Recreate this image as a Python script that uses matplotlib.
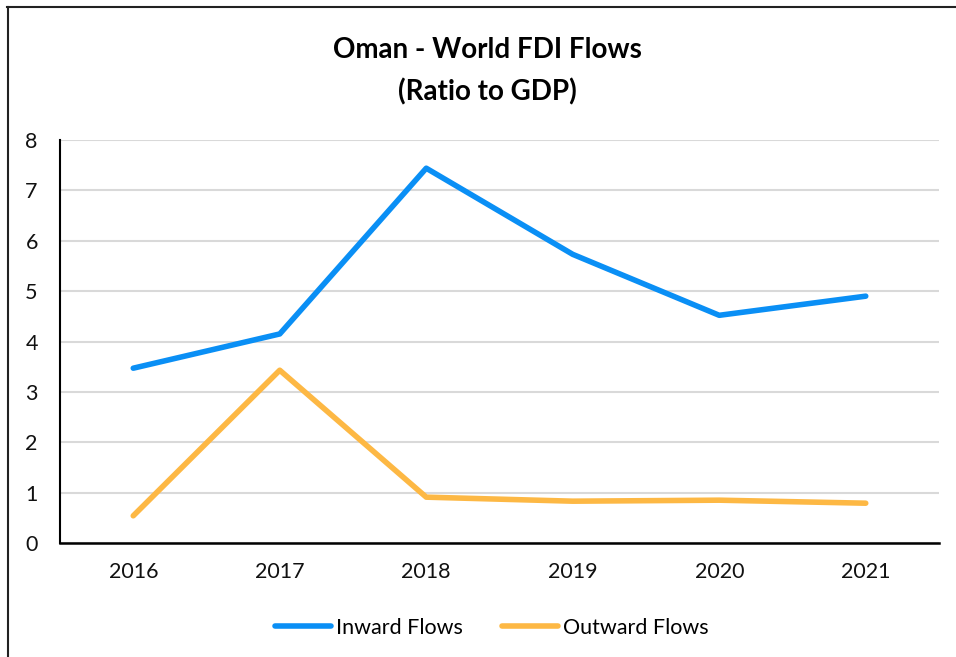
import matplotlib
matplotlib.use("Agg")
import matplotlib.pyplot as plt
from matplotlib.lines import Line2D

years = ["2016", "2017", "2018", "2019", "2020", "2021"]
inward = [3.47, 4.15, 7.44, 5.73, 4.52, 4.90]
outward = [0.54, 3.43, 0.91, 0.83, 0.85, 0.79]
yticks = [0, 1, 2, 3, 4, 5, 6, 7, 8]

plt.rcParams['font.family'] = ['Lato', 'DejaVu Sans']

W, H = 956, 657
fig = plt.figure(figsize=(W / 100, H / 100), dpi=100)
ax = fig.add_axes([60 / W, 1 - 543 / H, (939 - 60) / W, (543 - 140) / H])

BLUE = '#0A8FF5'
ORANGE = '#FDB844'

x = list(range(len(years)))
ax.plot(x, inward, color=BLUE, lw=4, solid_capstyle='round', solid_joinstyle='round', label='Inward Flows')
ax.plot(x, outward, color=ORANGE, lw=4, solid_capstyle='round', solid_joinstyle='round', label='Outward Flows')

ax.set_xlim(-0.5, len(years) - 0.5)
ax.set_ylim(0, 8)
ax.set_xticks(x)
ax.set_xticklabels(years)
ax.set_yticks(yticks)
ax.set_yticklabels([str(v) for v in yticks])
ax.tick_params(axis='both', length=0, labelsize=15.5, colors='#111111')
ax.tick_params(axis='x', pad=14)
ax.tick_params(axis='y', pad=16)
ax.grid(axis='y', color='#D9D9D9', lw=1.5)
ax.set_axisbelow(True)
for s in ['top', 'right']:
    ax.spines[s].set_visible(False)
ax.spines['left'].set_linewidth(1.5)
ax.spines['bottom'].set_linewidth(1.8)
ax.spines['left'].set_color('black')
ax.spines['bottom'].set_color('black')

fig.text(487 / W, 1 - 50 / H, 'Oman - World FDI Flows', ha='center', va='center',
         fontsize=20, fontweight='bold')
fig.text(487 / W, 1 - 92 / H, '(Ratio to GDP)', ha='center', va='center',
         fontsize=20, fontweight='bold')

handles = [Line2D([], [], color=BLUE, lw=4, solid_capstyle='round'),
           Line2D([], [], color=ORANGE, lw=4, solid_capstyle='round')]
fig.legend(handles, ['Inward Flows', 'Outward Flows'], loc='center',
           bbox_to_anchor=(492 / W, 1 - 628 / H), ncol=2, frameon=False,
           fontsize=15.5, handlelength=2.6, handletextpad=0.25, columnspacing=1.8)

# outer frame (top and left edges)
fig.add_artist(Line2D([7 / W, 1.0], [1 - 7 / H, 1 - 7 / H], color='#222222', lw=1.5,
                      transform=fig.transFigure))
fig.add_artist(Line2D([7.5 / W, 7.5 / W], [1 - 7 / H, 0], color='#222222', lw=1.5,
                      transform=fig.transFigure))

fig.savefig('out.png', dpi=100)
